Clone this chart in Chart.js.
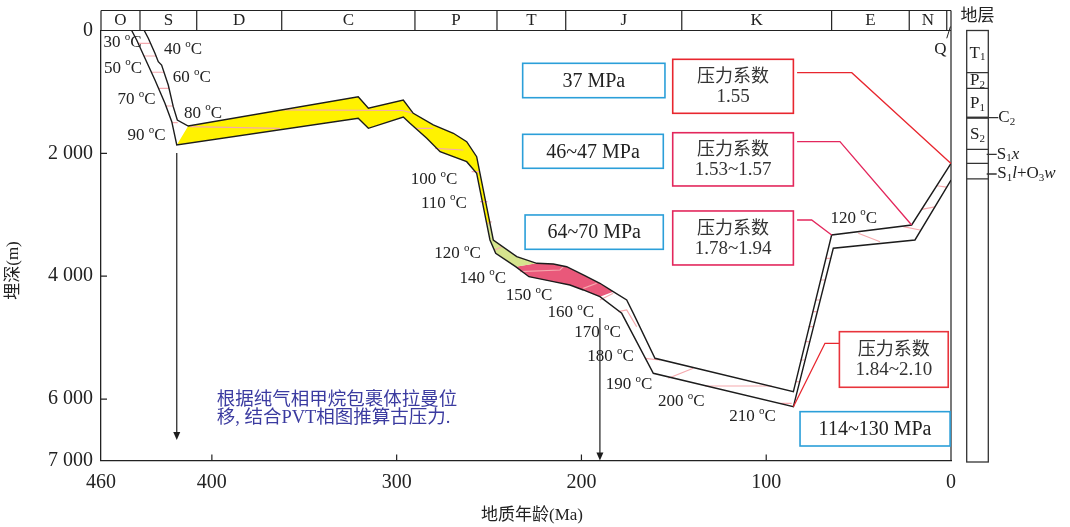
<!DOCTYPE html>
<html>
<head>
<meta charset="utf-8">
<script src="https://cdn.jsdelivr.net/npm/chart.js@4.4.0/dist/chart.umd.min.js"></script>
<style>
  html, body { margin: 0; padding: 0; background: #fff; }
</style>
</head>
<body>
<canvas id="chart" width="1070" height="527"></canvas>
<script>
// burial curves, age in Ma and depth in m
const upperAge = [436.6, 434.4, 430.8, 429.0, 427.2, 423.6, 420.9, 418.7, 412.8, 320.8, 315.3, 296.4, 291.0, 280.2, 269.3, 262.1, 256.7, 254.9, 247.7, 235.0, 224.2, 215.2, 208.0, 199.0, 190.0, 182.8, 175.5, 171.9, 160.2, 85.3, 64.6, 21.3, 0];
const upperDepth = [0, 127, 371, 508, 562, 887, 1240, 1457, 1555, 1078, 1266, 1131, 1348, 1538, 1673, 1810, 2054, 2325, 3410, 3682, 3790, 3801, 3845, 3980, 4115, 4252, 4387, 4604, 5336, 5880, 3329, 3166, 2165];
const lowerAge = [443.4, 440.7, 436.2, 430.8, 425.4, 421.7, 419.0, 320.8, 315.3, 296.4, 292.8, 283.7, 276.5, 262.1, 256.7, 249.5, 246.4, 235.6, 228.4, 215.2, 206.2, 199.0, 190.0, 178.2, 161.1, 85.3, 63.7, 19.5, 0];
const lowerDepth = [0, 155, 453, 806, 1185, 1485, 1864, 1429, 1592, 1408, 1511, 1755, 1973, 2136, 2325, 3410, 3627, 3845, 4008, 4089, 4143, 4224, 4333, 4604, 5580, 6124, 3545, 3410, 2434];

// where the yellow part turns green (on upper / lower curve)
const yellowEndTop = [249.3, 3150];
const yellowEndBottom = [251.2, 3150];

// isotherms (pink segments)
const isotherms = [
  [[439.9, 208], [433.2, 208]],
  [[436.8, 415], [430.2, 415]],
  [[432.7, 680], [425.9, 680]],
  [[428.9, 941], [423.2, 941]],
  [[424.9, 1229], [421.0, 1229]],
  [[421.6, 1501], [418.5, 1501]],
  [[411.8, 1566], [363.1, 1592]],
  [[362.0, 1292], [296.9, 1302], [291.5, 1340]],
  [[289.8, 1592], [280.2, 1592]],
  [[279.2, 1918], [263.9, 1945]],
  [[259.4, 2299], [254.9, 2299]],
  [[254.9, 2787], [250.9, 2787]],
  [[250.9, 3139], [248.6, 3112]],
  [[246.8, 3573], [243.2, 3519]],
  [[233.2, 3926], [211.6, 3899], [209.8, 3845]],
  [[199.0, 4197], [191.7, 4115]],
  [[190.0, 4387], [182.8, 4278]],
  [[180.0, 4577], [175.5, 4550], [170.1, 4822]],
  [[165.6, 5336], [157.5, 5364]],
  [[153.0, 5662], [139.5, 5499]],
  [[133.1, 5787], [97.0, 5787]],
  [[92.5, 6069], [86.2, 6069]],
  [[84.0, 5717], [81.9, 5717]],
  [[81.6, 5364], [79.3, 5364]],
  [[79.1, 5066], [76.7, 5066]],
  [[77.1, 4822], [74.6, 4822]],
  [[75.0, 4577], [72.6, 4577]],
  [[73.4, 4387], [70.9, 4387]],
  [[70.7, 4062], [68.1, 4062]],
  [[67.8, 3708], [65.1, 3708]],
  [[50.2, 3301], [38.4, 3438]],
  [[25.8, 3194], [16.8, 3248]],
  [[15.9, 2912], [8.7, 2870]],
  [[7.7, 2527], [2.3, 2549]]
];

// temperature labels
const tempText = ['30', '40', '50', '60', '70', '80', '90', '100', '110', '120', '140', '150', '160', '170', '180', '190', '200', '210', '120'];
const tempAge = [448.4, 415.6, 448.1, 410.9, 440.7, 404.8, 435.3, 279.8, 274.4, 267.1, 253.4, 228.4, 205.8, 191.3, 184.3, 174.3, 146.0, 107.4, 52.6];
const tempDepth = [199, 317, 615, 768, 1131, 1348, 1717, 2434, 2813, 3638, 4034, 4317, 4594, 4919, 5310, 5771, 6043, 6287, 3057];

// geologic periods along the top
const periodEdges = [460, 438.9, 408.2, 362.2, 290.1, 245.7, 208.5, 145.7, 64.6, 22.6, 2.3, 0];
const periodNames = ['O', 'S', 'D', 'C', 'P', 'T', 'J', 'K', 'E', 'N', ''];

const xTicks = [460, 400, 300, 200, 100, 0];
const yTicks = [0, 2000, 4000, 6000, 7000];

// pressure boxes (age range, depth range)
const blueBoxes = [
  { text: '37 MPa', x0: 231.8, x1: 154.8, y0: 534, y1: 1094 },
  { text: '46~47 MPa', x0: 231.8, x1: 155.7, y0: 1690, y1: 2243 },
  { text: '64~70 MPa', x0: 230.5, x1: 155.7, y0: 3003, y1: 3562 },
  { text: '114~130 MPa', x0: 81.7, x1: 0.5, y0: 6205, y1: 6764 }
];
const redBoxes = [
  { text: '1.55', x0: 150.6, x1: 85.3, y0: 469, y1: 1348, color: '#e8262e' },
  { text: '1.53~1.57', x0: 150.6, x1: 85.3, y0: 1664, y1: 2531, color: '#e3275c' },
  { text: '1.78~1.94', x0: 150.6, x1: 85.3, y0: 2938, y1: 3817, color: '#e3275c' },
  { text: '1.84~2.10', x0: 60.4, x1: 1.5, y0: 4903, y1: 5808, color: '#e8343c' }
];
const leaders = [
  { pts: [[83.3, 687], [53.7, 687], [0, 2165]], color: '#e8262e' },
  { pts: [[83.3, 1810], [60.1, 1810], [21.3, 3166]], color: '#e3275c' },
  { pts: [[83.3, 3085], [75.4, 3085], [64.6, 3329]], color: '#e3275c' },
  { pts: [[60.4, 5092], [68.2, 5092], [85.3, 6124]], color: '#e8262e' }
];

// sample arrows (age, from depth, to depth)
const arrows = [[419, 1994, 6666], [190, 4680, 7000]];

// strata column on the right
const columnLines = [687, 941, 1419, 1934, 2162, 2417];

const SERIF = '"Liberation Serif", "DejaVu Serif", serif';
const MIXED = '"Liberation Serif", "Noto Sans CJK SC", serif';

const pts = (ages, depths) => ages.map((a, i) => ({ x: a, y: depths[i] }));
const upper = pts(upperAge, upperDepth);
const lower = pts(lowerAge, lowerDepth);
const P = p => ({ x: p[0], y: p[1] });

const yellowPoly = [lower[6], ...upper.slice(8, 18), P(yellowEndTop), P(yellowEndBottom), ...lower.slice(6, 15).reverse()];
const greenPoly = [P(yellowEndTop), ...upper.slice(18, 21), ...lower.slice(15, 18).reverse(), P(yellowEndBottom)];
const redPoly = [...upper.slice(20, 26), ...lower.slice(17, 23).reverse()];

const fillSet = (data, color) => ({
  data, fill: 'shape', backgroundColor: color, borderColor: 'rgba(0,0,0,0)', borderWidth: 0, order: 2
});

const datasets = [
  { data: upper, borderColor: '#1c1c1c', borderWidth: 1.4, fill: false, order: 0 },
  { data: lower, borderColor: '#1c1c1c', borderWidth: 1.4, fill: false, order: 0 },
  ...isotherms.map(seg => ({ data: seg.map(P), borderColor: '#f5a9ae', borderWidth: 1.2, fill: false, order: 1 })),
  fillSet(yellowPoly, '#fff200'),
  fillSet(greenPoly, '#d6e48e'),
  fillSet(redPoly, '#e9587a')
];

function drawTemp(ctx, num, cx, cy) {
  ctx.font = '17px ' + SERIF;
  const a = ctx.measureText(num + ' ').width;
  const c = ctx.measureText('C').width;
  ctx.font = '11px ' + SERIF;
  const o = ctx.measureText('o').width;
  let x = cx - (a + o + c) / 2;
  ctx.textAlign = 'left';
  ctx.textBaseline = 'middle';
  ctx.font = '17px ' + SERIF;
  ctx.fillText(num + ' ', x, cy);
  x += a;
  ctx.font = '11px ' + SERIF;
  ctx.fillText('o', x, cy - 6);
  x += o;
  ctx.font = '17px ' + SERIF;
  ctx.fillText('C', x, cy);
}

// parts: [text, kind] kind n = normal, s = subscript, i = italic
function drawRich(ctx, parts, x, y, align) {
  const fontFor = k => k === 's' ? '11px ' + SERIF : (k === 'i' ? 'italic 17px ' + SERIF : '17px ' + SERIF);
  let w = 0;
  parts.forEach(([t, k]) => { ctx.font = fontFor(k); w += ctx.measureText(t).width; });
  let cx = align === 'center' ? x - w / 2 : x;
  ctx.textAlign = 'left';
  ctx.textBaseline = 'middle';
  parts.forEach(([t, k]) => {
    ctx.font = fontFor(k);
    ctx.fillText(t, cx, k === 's' ? y + 4 : y);
    cx += ctx.measureText(t).width;
  });
}

const overlay = {
  id: 'overlay',
  afterDraw(chart) {
    const ctx = chart.ctx, xs = chart.scales.x, ys = chart.scales.y, a = chart.chartArea;
    const X = v => xs.getPixelForValue(v), Y = v => ys.getPixelForValue(v);
    ctx.save();

    // period band and frame
    const bandTop = a.top - 20;
    ctx.strokeStyle = '#222';
    ctx.lineWidth = 1.2;
    ctx.beginPath();
    ctx.moveTo(a.left, bandTop); ctx.lineTo(a.right, bandTop);
    ctx.moveTo(a.left, a.top); ctx.lineTo(a.right, a.top);
    ctx.moveTo(a.left, bandTop); ctx.lineTo(a.left, a.top);
    ctx.moveTo(a.right, bandTop); ctx.lineTo(a.right, a.bottom);
    periodEdges.slice(1, -1).forEach(t => { ctx.moveTo(X(t), bandTop); ctx.lineTo(X(t), a.top); });
    ctx.stroke();
    ctx.fillStyle = '#222';
    ctx.font = '17px ' + SERIF;
    ctx.textAlign = 'center';
    ctx.textBaseline = 'middle';
    periodNames.forEach((n, i) => {
      if (n) ctx.fillText(n, (X(periodEdges[i]) + X(periodEdges[i + 1])) / 2, bandTop + 10.5);
    });
    // Q
    ctx.lineWidth = 1;
    ctx.beginPath();
    ctx.moveTo(X(2.3), Y(127)); ctx.lineTo(X(0.3), a.top - 4);
    ctx.stroke();
    ctx.fillText('Q', X(5.7), Y(317));

    // inner tick marks
    ctx.lineWidth = 1.2;
    ctx.beginPath();
    [400, 300, 200, 100].forEach(v => { ctx.moveTo(X(v), a.bottom); ctx.lineTo(X(v), a.bottom - 6); });
    [2000, 4000, 6000].forEach(v => { ctx.moveTo(a.left, Y(v)); ctx.lineTo(a.left + 6, Y(v)); });
    ctx.stroke();

    // temperature labels
    ctx.fillStyle = '#222';
    tempText.forEach((t, i) => drawTemp(ctx, t, X(tempAge[i]), Y(tempDepth[i])));

    // arrows
    ctx.strokeStyle = '#1c1c1c';
    ctx.fillStyle = '#1c1c1c';
    ctx.lineWidth = 1.2;
    arrows.forEach(([age, d0, d1]) => {
      const x = X(age), y0 = Y(d0), y1 = Y(d1);
      ctx.beginPath(); ctx.moveTo(x, y0); ctx.lineTo(x, y1 - 6); ctx.stroke();
      ctx.beginPath(); ctx.moveTo(x - 3.5, y1 - 8); ctx.lineTo(x + 3.5, y1 - 8); ctx.lineTo(x, y1); ctx.closePath(); ctx.fill();
    });

    // leader lines
    leaders.forEach(l => {
      ctx.strokeStyle = l.color;
      ctx.lineWidth = 1.3;
      ctx.beginPath();
      l.pts.forEach(([ag, d], i) => i ? ctx.lineTo(X(ag), Y(d)) : ctx.moveTo(X(ag), Y(d)));
      ctx.stroke();
    });

    // blue boxes
    blueBoxes.forEach(b => {
      const x0 = X(b.x0), x1 = X(b.x1), y0 = Y(b.y0), y1 = Y(b.y1);
      ctx.fillStyle = '#fff';
      ctx.fillRect(x0, y0, x1 - x0, y1 - y0);
      ctx.strokeStyle = '#2b9fd9';
      ctx.lineWidth = 1.6;
      ctx.strokeRect(x0, y0, x1 - x0, y1 - y0);
      ctx.fillStyle = '#222';
      ctx.font = '20px ' + SERIF;
      ctx.textAlign = 'center';
      ctx.textBaseline = 'middle';
      ctx.fillText(b.text, (x0 + x1) / 2, (y0 + y1) / 2 + 1);
    });

    // red boxes
    redBoxes.forEach(b => {
      const x0 = X(b.x0), x1 = X(b.x1), y0 = Y(b.y0), y1 = Y(b.y1);
      const cx = (x0 + x1) / 2, cy = (y0 + y1) / 2;
      ctx.fillStyle = '#fff';
      ctx.fillRect(x0, y0, x1 - x0, y1 - y0);
      ctx.strokeStyle = b.color;
      ctx.lineWidth = 1.6;
      ctx.strokeRect(x0, y0, x1 - x0, y1 - y0);
      ctx.fillStyle = '#333';
      ctx.textAlign = 'center';
      ctx.textBaseline = 'middle';
      ctx.font = '18px ' + MIXED;
      ctx.fillText('压力系数', cx, cy - 9);
      ctx.font = '19px ' + SERIF;
      ctx.fillText(b.text, cx, cy + 11);
    });

    // method note
    ctx.fillStyle = '#3b3ba0';
    ctx.font = '18.5px ' + MIXED;
    ctx.textAlign = 'left';
    ctx.textBaseline = 'middle';
    ctx.fillText('根据纯气相甲烷包裹体拉曼位', X(397.4), Y(6015));
    ctx.fillText('移, 结合PVT相图推算古压力.', X(397.4), Y(6313));

    // strata column
    const c0 = a.right + 15.7, c1 = a.right + 37.3;
    ctx.strokeStyle = '#333';
    ctx.lineWidth = 1.3;
    ctx.strokeRect(c0, a.top, c1 - c0, a.bottom + 1.5 - a.top);
    ctx.beginPath();
    columnLines.forEach(d => { ctx.moveTo(c0, Y(d)); ctx.lineTo(c1, Y(d)); });
    ctx.moveTo(c1, Y(1419)); ctx.lineTo(c1 + 10, Y(1419));
    ctx.moveTo(c1 - 1.6, Y(2015)); ctx.lineTo(c1 + 8.4, Y(2015));
    ctx.moveTo(c1 - 1.6, Y(2336)); ctx.lineTo(c1 + 8.4, Y(2336));
    ctx.stroke();
    ctx.lineWidth = 2.2;
    ctx.beginPath(); ctx.moveTo(c0, Y(1419)); ctx.lineTo(c1, Y(1419)); ctx.stroke();
    ctx.fillStyle = '#222';
    const cm = (c0 + c1) / 2;
    drawRich(ctx, [['T', 'n'], ['1', 's']], cm, Y(371), 'center');
    drawRich(ctx, [['P', 'n'], ['2', 's']], cm, Y(822), 'center');
    drawRich(ctx, [['P', 'n'], ['1', 's']], cm, Y(1196), 'center');
    drawRich(ctx, [['S', 'n'], ['2', 's']], cm, Y(1701), 'center');
    drawRich(ctx, [['C', 'n'], ['2', 's']], c1 + 10, Y(1419), 'left');
    drawRich(ctx, [['S', 'n'], ['1', 's'], ['x', 'i']], c1 + 8.4, Y(2015), 'left');
    drawRich(ctx, [['S', 'n'], ['1', 's'], ['l', 'i'], ['+O', 'n'], ['3', 's'], ['w', 'i']], c1 + 9, Y(2336), 'left');
    ctx.font = '17px ' + MIXED;
    ctx.textAlign = 'center';
    ctx.textBaseline = 'middle';
    ctx.fillText('地层', cm, a.top - 14);

    // axis titles
    ctx.font = '17px ' + MIXED;
    ctx.fillText('地质年龄(Ma)', (a.left + a.right) / 2 + 6, a.bottom + 55);
    ctx.translate(14, (a.top + a.bottom) / 2 + 25);
    ctx.rotate(-Math.PI / 2);
    ctx.fillText('埋深(m)', 0, 0);
    ctx.restore();
  }
};

const fmt = v => String(v).replace(/\B(?=(\d{3})+(?!\d))/g, ' ');

new Chart(document.getElementById('chart'), {
  type: 'line',
  data: { datasets },
  options: {
    responsive: false,
    animation: false,
    layout: { padding: { left: 0, right: 119, top: 30.5, bottom: 0 } },
    plugins: { legend: { display: false }, tooltip: { enabled: false } },
    elements: { point: { radius: 0 }, line: { tension: 0 } },
    scales: {
      x: {
        type: 'linear', reverse: true, min: 0, max: 460,
        afterBuildTicks: s => { s.ticks = xTicks.map(v => ({ value: v })); },
        afterFit: s => { s.height = 66.5; },
        grid: { display: false, drawTicks: false },
        border: { display: true, color: '#222', width: 1.3 },
        ticks: { font: { family: SERIF, size: 20 }, color: '#222', padding: 10, maxRotation: 0, autoSkip: false, callback: v => fmt(v) }
      },
      y: {
        type: 'linear', reverse: true, min: 0, max: 7000,
        afterBuildTicks: s => { s.ticks = yTicks.map(v => ({ value: v })); },
        afterFit: s => { s.width = 101; },
        grid: { display: false, drawTicks: false },
        border: { display: true, color: '#222', width: 1.3 },
        ticks: { font: { family: SERIF, size: 20 }, color: '#222', padding: 8, autoSkip: false, callback: v => fmt(v) }
      }
    }
  },
  plugins: [overlay]
});
</script>
</body>
</html>
